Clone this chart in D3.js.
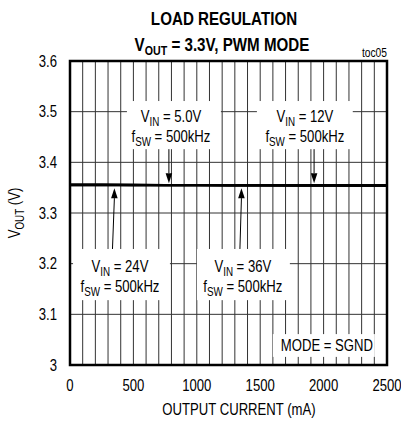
<!DOCTYPE html>
<html>
<head>
<meta charset="utf-8">
<script src="https://cdn.jsdelivr.net/npm/d3@7"></script>
<style>
  body { margin: 0; background: #fff; }
  text { font-family: "Liberation Sans", Arial, sans-serif; fill: #000; }
</style>
</head>
<body>
<script>
// chart data
var currents = [0, 250, 500, 750, 1000, 1250, 1500, 1750, 2000, 2250, 2500];
var vin5  = [3.356, 3.356, 3.356, 3.355, 3.355, 3.355, 3.355, 3.355, 3.355, 3.355, 3.355];
var vin12 = [3.356, 3.356, 3.355, 3.355, 3.355, 3.355, 3.355, 3.355, 3.355, 3.354, 3.354];
var vin24 = [3.355, 3.355, 3.355, 3.355, 3.355, 3.355, 3.355, 3.354, 3.354, 3.354, 3.354];
var vin36 = [3.355, 3.355, 3.355, 3.355, 3.355, 3.354, 3.354, 3.354, 3.354, 3.354, 3.354];
var xTicks = [0, 500, 1000, 1500, 2000, 2500];
var yTicks = [3, 3.1, 3.2, 3.3, 3.4, 3.5, 3.6];
var xGrid = d3.range(0, 2501, 100);

var width = 401,
    height = 421;
var margin = {left: 70, right: 14, top: 61, bottom: 56};
var narrow = 0.82; //no arial narrow installed, squeeze liberation sans

var svg = d3.select("body")
    .append("svg")
    .attr("width", width)
    .attr("height", height);

var x = d3.scaleLinear()
    .domain([0, 2500])
    .range([margin.left, width - margin.right]);

var y = d3.scaleLinear()
    .domain([3, 3.6])
    .range([height - margin.bottom, margin.top]);

//text helper, condensed like the datasheet font
function addText(parent, px, py, size, anchor, rot){
    return parent.append("text")
        .attr("transform", "translate(" + px + "," + py + ")" + (rot ? " rotate(" + rot + ")" : "") + " scale(" + narrow + ",1)")
        .attr("text-anchor", anchor)
        .style("font-size", size + "px");
}

//titles
addText(svg, 224, 25, 18.5, "middle").style("font-weight", "bold").text("LOAD REGULATION");
var t2 = addText(svg, 222, 51, 18.5, "middle").style("font-weight", "bold");
t2.append("tspan").text("V");
t2.append("tspan").attr("dy", 4).style("font-size", "13px").text("OUT");
t2.append("tspan").attr("dy", -4).text(" = 3.3V, PWM MODE");

addText(svg, x(2500), 56.5, 12.5, "end").text("toc05");

//grid
svg.append("g")
    .selectAll("line")
    .data(xGrid)
    .enter()
    .append("line")
    .attr("x1", function(d){ return x(d); })
    .attr("x2", function(d){ return x(d); })
    .attr("y1", y(3))
    .attr("y2", y(3.6))
    .attr("stroke", "#333")
    .attr("stroke-width", 1);

svg.append("g")
    .selectAll("line")
    .data(yTicks)
    .enter()
    .append("line")
    .attr("x1", x(0))
    .attr("x2", x(2500))
    .attr("y1", function(d){ return y(d); })
    .attr("y2", function(d){ return y(d); })
    .attr("stroke", "#333")
    .attr("stroke-width", 1);

//annotation boxes (data coords), dir -1 = arrow down onto the trace
var notes = [
    {vin: "5.0V", box: [449, 1190, 3.521, 3.426], cx: 796, b1: 121.7, b2: 141.7,
     arrow: {c0: 780, v0: 3.426, c1: 780}, dir: -1},
    {vin: "12V", box: [1474, 2230, 3.521, 3.426], cx: 1852, b1: 121.7, b2: 141.7,
     arrow: {c0: 1925, v0: 3.426, c1: 1925}, dir: -1},
    {vin: "24V", box: [24, 788, 3.229, 3.128], cx: 394, b1: 272, b2: 291.5,
     arrow: {c0: 335, v0: 3.229, c1: 350}, dir: 1},
    {vin: "36V", box: [1001, 1734, 3.229, 3.128], cx: 1363, b1: 272, b2: 291.5,
     arrow: {c0: 1340, v0: 3.229, c1: 1352}, dir: 1}
];

svg.append("g")
    .selectAll("rect")
    .data(notes)
    .enter()
    .append("rect")
    .attr("x", function(d){ return x(d.box[0]); })
    .attr("width", function(d){ return x(d.box[1]) - x(d.box[0]); })
    .attr("y", function(d){ return y(d.box[2]); })
    .attr("height", function(d){ return y(d.box[3]) - y(d.box[2]); })
    .attr("fill", "#fff");

//mode box
svg.append("rect")
    .attr("x", x(1600))
    .attr("width", x(2404) - x(1600))
    .attr("y", y(3.061))
    .attr("height", y(3.016) - y(3.061))
    .attr("fill", "#fff");
addText(svg, x(2026), 350.5, 16, "middle").text("MODE = SGND");

//labels
notes.forEach(function(d){
    var l1 = addText(svg, x(d.cx), d.b1, 16, "middle");
    l1.append("tspan").text("V");
    l1.append("tspan").attr("dy", 4).style("font-size", "12px").text("IN");
    l1.append("tspan").attr("dy", -4).text(" = " + d.vin);
    var l2 = addText(svg, x(d.cx), d.b2, 16, "middle");
    l2.append("tspan").text("f");
    l2.append("tspan").attr("dy", 4).style("font-size", "12px").text("SW");
    l2.append("tspan").attr("dy", -4).text(" = 500kHz");

    //arrow
    var lineY = y(3.355);
    var tipY = d.dir < 0 ? lineY - 2 : lineY + 3;
    var headLen = 10, headW = 3.3;
    var baseY = d.dir < 0 ? tipY - headLen : tipY + headLen;
    var x0 = x(d.arrow.c0), y0 = y(d.arrow.v0), x1 = x(d.arrow.c1);
    svg.append("line")
        .attr("x1", x0).attr("y1", y0)
        .attr("x2", x1).attr("y2", baseY)
        .attr("stroke", "#000").attr("stroke-width", 1);
    svg.append("path")
        .attr("d", "M" + x1 + "," + tipY + "L" + (x1 - headW) + "," + baseY + "L" + (x1 + headW) + "," + baseY + "Z")
        .attr("fill", "#000");
});

//data lines
var line = d3.line()
    .x(function(d, i){ return x(currents[i]); })
    .y(function(d){ return y(d); });

svg.append("g")
    .selectAll("path")
    .data([vin5, vin12, vin24, vin36])
    .enter()
    .append("path")
    .attr("d", line)
    .attr("fill", "none")
    .attr("stroke", "#000")
    .attr("stroke-width", 2.2);

//frame
svg.append("rect")
    .attr("x", x(0))
    .attr("y", y(3.6))
    .attr("width", x(2500) - x(0))
    .attr("height", y(3) - y(3.6))
    .attr("fill", "none")
    .attr("stroke", "#000")
    .attr("stroke-width", 2.5);

//axis labels
yTicks.forEach(function(d){
    addText(svg, 57, y(d) + 5.5, 16, "end").text(d === 3 ? "3" : d3.format(".1f")(d));
});

xTicks.forEach(function(d){
    addText(svg, x(d), 391, 16, "middle").text(d);
});

addText(svg, 239, 415, 16, "middle").text("OUTPUT CURRENT (mA)");

var yl = addText(svg, 20, 213, 16, "middle", -90);
yl.append("tspan").text("V");
yl.append("tspan").attr("dy", 4).style("font-size", "12px").text("OUT");
yl.append("tspan").attr("dy", -4).text(" (V)");
</script>
</body>
</html>
